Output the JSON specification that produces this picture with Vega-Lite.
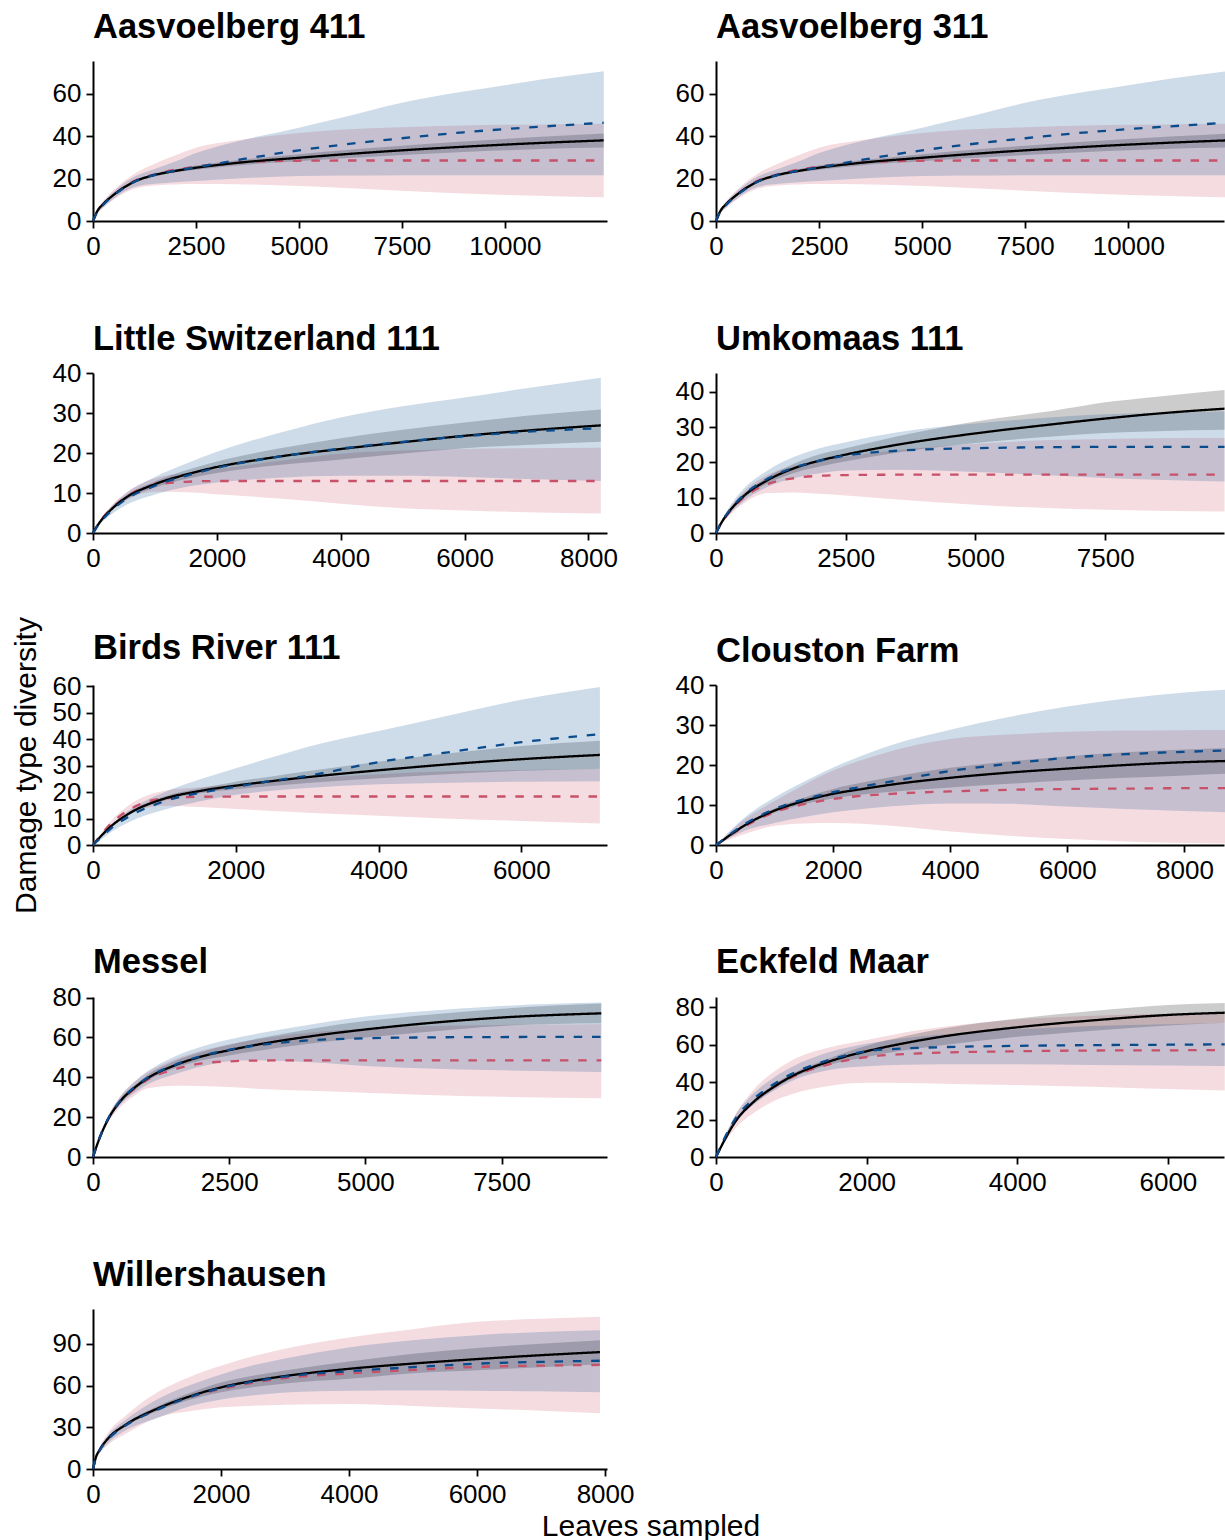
{
"$schema": "https://vega.github.io/schema/vega-lite/v6.json",
"padding": {"left": 10, "top": 9, "right": 0, "bottom": 0},
"background": "white",
"config": {
 "font": "Liberation Sans",
 "numberFormat": "d",
 "view": {"stroke": null},
 "axis": {"grid": false, "format": "d", "domainColor": "#000", "domainWidth": 2, "tickColor": "#000", "tickWidth": 1.8, "tickSize": 7, "labelFontSize": 26, "labelColor": "#000", "labelPadding": 5, "labelOverlap": false, "labelFlush": false, "titleFontSize": 30, "titleFontWeight": "normal", "titleColor": "#000"},
 "title": {"anchor": "start", "frame": "group", "fontSize": 34.5, "fontWeight": "bold", "color": "#000"},
 "line": {"strokeWidth": 2.3, "interpolate": "monotone", "clip": true},
 "area": {"opacity": 0.2, "interpolate": "monotone", "clip": true}
},
"datasets": {
 "p1": [
  {"x":0,"s":"r","y":0,"lo":0,"hi":0},{"x":100,"s":"r","y":4.3,"lo":3.3,"hi":5.3},{"x":250,"s":"r","y":7.9,"lo":6.3,"hi":9.5},{"x":500,"s":"r","y":12.3,"lo":10,"hi":14.6},{"x":1000,"s":"r","y":18.8,"lo":15.2,"hi":22.2},{"x":1500,"s":"r","y":22,"lo":16.7,"hi":27},{"x":2000,"s":"r","y":24.2,"lo":17.2,"hi":31},{"x":2500,"s":"r","y":25.6,"lo":17.4,"hi":34.5},{"x":3500,"s":"r","y":27.6,"lo":17.3,"hi":38},{"x":5000,"s":"r","y":28.4,"lo":16.5,"hi":41.5},{"x":6000,"s":"r","y":28.5,"lo":15.7,"hi":43},{"x":7500,"s":"r","y":28.5,"lo":14.3,"hi":44.2},{"x":9000,"s":"r","y":28.5,"lo":13,"hi":45},{"x":10000,"s":"r","y":28.5,"lo":12.3,"hi":45.3},{"x":11000,"s":"r","y":28.5,"lo":11.8,"hi":45.5},{"x":12400,"s":"r","y":28.5,"lo":11.2,"hi":45.8},
  {"x":0,"s":"k","y":0,"lo":0,"hi":0},{"x":100,"s":"k","y":4.5,"lo":4.2,"hi":4.8},{"x":250,"s":"k","y":8,"lo":7.6,"hi":8.4},{"x":500,"s":"k","y":12.3,"lo":11.8,"hi":12.8},{"x":1000,"s":"k","y":18.5,"lo":17.9,"hi":19.1},{"x":1500,"s":"k","y":21.7,"lo":21,"hi":22.4},{"x":2000,"s":"k","y":23.6,"lo":22.8,"hi":24.4},{"x":2500,"s":"k","y":25.1,"lo":24.1,"hi":26.1},{"x":3500,"s":"k","y":27.4,"lo":26.2,"hi":28.6},{"x":5000,"s":"k","y":29.8,"lo":28.1,"hi":31.5},{"x":6000,"s":"k","y":31.3,"lo":29.4,"hi":33.2},{"x":7500,"s":"k","y":33.3,"lo":31.1,"hi":35.5},{"x":9000,"s":"k","y":35,"lo":32.5,"hi":37.5},{"x":10000,"s":"k","y":36,"lo":33.3,"hi":38.7},{"x":11000,"s":"k","y":36.9,"lo":34,"hi":39.8},{"x":12400,"s":"k","y":38,"lo":34.6,"hi":41.2},
  {"x":0,"s":"b","y":0,"lo":0,"hi":0},{"x":100,"s":"b","y":4.2,"lo":3.5,"hi":5},{"x":250,"s":"b","y":7.7,"lo":6.5,"hi":9},{"x":500,"s":"b","y":12,"lo":10.5,"hi":13.8},{"x":1000,"s":"b","y":18.4,"lo":16,"hi":20.8},{"x":1500,"s":"b","y":21.7,"lo":17.5,"hi":24.5},{"x":2000,"s":"b","y":23.7,"lo":18.3,"hi":28},{"x":2500,"s":"b","y":25.3,"lo":18.8,"hi":32},{"x":3500,"s":"b","y":28.7,"lo":20,"hi":37.5},{"x":5000,"s":"b","y":33.3,"lo":21.2,"hi":44},{"x":6000,"s":"b","y":35.8,"lo":21.4,"hi":48.5},{"x":7500,"s":"b","y":39,"lo":21.6,"hi":55.7},{"x":9000,"s":"b","y":41.8,"lo":21.6,"hi":61},{"x":10000,"s":"b","y":43.3,"lo":21.6,"hi":64},{"x":11000,"s":"b","y":44.6,"lo":21.6,"hi":67},{"x":12400,"s":"b","y":46.3,"lo":21.6,"hi":70.6}
 ],
 "p3": [
  {"x":0,"s":"r","y":0,"lo":0,"hi":0},{"x":100,"s":"r","y":2.6,"lo":2.2,"hi":3},{"x":250,"s":"r","y":5.4,"lo":4.8,"hi":6.1},{"x":500,"s":"r","y":8.7,"lo":7.8,"hi":9.7},{"x":1000,"s":"r","y":12,"lo":10.3,"hi":13.7},{"x":1500,"s":"r","y":12.8,"lo":10.2,"hi":15},{"x":2000,"s":"r","y":13,"lo":9.7,"hi":16},{"x":2500,"s":"r","y":13,"lo":9.2,"hi":17},{"x":3000,"s":"r","y":13,"lo":8.6,"hi":18},{"x":4000,"s":"r","y":13,"lo":7.3,"hi":19.8},{"x":5000,"s":"r","y":13,"lo":6.2,"hi":20.6},{"x":6000,"s":"r","y":13,"lo":5.6,"hi":21},{"x":7000,"s":"r","y":13,"lo":5.2,"hi":21.2},{"x":8200,"s":"r","y":13,"lo":4.9,"hi":21.3},
  {"x":0,"s":"k","y":0,"lo":0,"hi":0},{"x":100,"s":"k","y":2.5,"lo":2.3,"hi":2.7},{"x":250,"s":"k","y":5.2,"lo":4.9,"hi":5.5},{"x":500,"s":"k","y":8.5,"lo":8,"hi":9},{"x":1000,"s":"k","y":12.2,"lo":11.4,"hi":12.9},{"x":1500,"s":"k","y":14.6,"lo":13.5,"hi":15.7},{"x":2000,"s":"k","y":16.5,"lo":15,"hi":17.9},{"x":2500,"s":"k","y":17.9,"lo":16.1,"hi":19.6},{"x":3000,"s":"k","y":19.1,"lo":17,"hi":21.1},{"x":4000,"s":"k","y":21,"lo":18.4,"hi":23.7},{"x":5000,"s":"k","y":22.7,"lo":19.9,"hi":25.8},{"x":6000,"s":"k","y":24.3,"lo":21.2,"hi":27.6},{"x":7000,"s":"k","y":25.6,"lo":22,"hi":29.3},{"x":8200,"s":"k","y":26.9,"lo":22.8,"hi":30.9},
  {"x":0,"s":"b","y":0,"lo":0,"hi":0},{"x":100,"s":"b","y":2.3,"lo":1.9,"hi":2.8},{"x":250,"s":"b","y":4.9,"lo":4.1,"hi":5.8},{"x":500,"s":"b","y":8.1,"lo":6.7,"hi":9.5},{"x":1000,"s":"b","y":11.8,"lo":9.6,"hi":14},{"x":1500,"s":"b","y":14.3,"lo":11.5,"hi":17.3},{"x":2000,"s":"b","y":16.3,"lo":12.6,"hi":20.3},{"x":2500,"s":"b","y":17.8,"lo":13.3,"hi":22.8},{"x":3000,"s":"b","y":19.1,"lo":13.8,"hi":25},{"x":4000,"s":"b","y":21.1,"lo":14.3,"hi":28.9},{"x":5000,"s":"b","y":22.8,"lo":14.3,"hi":31.7},{"x":6000,"s":"b","y":24.2,"lo":14,"hi":33.9},{"x":7000,"s":"b","y":25.3,"lo":13.5,"hi":36.2},{"x":8200,"s":"b","y":26.2,"lo":13,"hi":38.8}
 ],
 "p4": [
  {"x":0,"s":"r","y":0,"lo":0,"hi":0},{"x":100,"s":"r","y":2.7,"lo":2.2,"hi":3.2},{"x":250,"s":"r","y":5.8,"lo":4.8,"hi":6.8},{"x":500,"s":"r","y":9.6,"lo":8,"hi":11.2},{"x":1000,"s":"r","y":13.9,"lo":11.3,"hi":16.5},{"x":1500,"s":"r","y":15.5,"lo":11.5,"hi":19},{"x":2000,"s":"r","y":16.2,"lo":11.1,"hi":20.5},{"x":2500,"s":"r","y":16.4,"lo":10.6,"hi":21.6},{"x":3500,"s":"r","y":16.5,"lo":9.5,"hi":23.5},{"x":5000,"s":"r","y":16.5,"lo":8,"hi":25.3},{"x":6500,"s":"r","y":16.5,"lo":7,"hi":26.3},{"x":7500,"s":"r","y":16.5,"lo":6.6,"hi":26.6},{"x":8500,"s":"r","y":16.5,"lo":6.3,"hi":26.8},{"x":9800,"s":"r","y":16.5,"lo":6.1,"hi":26.9},
  {"x":0,"s":"k","y":0,"lo":0,"hi":0},{"x":100,"s":"k","y":2.8,"lo":2.6,"hi":3},{"x":250,"s":"k","y":6,"lo":5.6,"hi":6.4},{"x":500,"s":"k","y":10,"lo":9.4,"hi":10.6},{"x":1000,"s":"k","y":15,"lo":14.1,"hi":15.9},{"x":1500,"s":"k","y":18.3,"lo":17,"hi":19.6},{"x":2000,"s":"k","y":20.5,"lo":18.8,"hi":22.3},{"x":2500,"s":"k","y":22.2,"lo":20.3,"hi":24},{"x":3500,"s":"k","y":25,"lo":22.8,"hi":27.4},{"x":5000,"s":"k","y":28.2,"lo":25.5,"hi":31.6},{"x":6500,"s":"k","y":30.8,"lo":27.3,"hi":34.6},{"x":7500,"s":"k","y":32.4,"lo":28.3,"hi":37},{"x":8500,"s":"k","y":33.8,"lo":28.8,"hi":38.6},{"x":9800,"s":"k","y":35.2,"lo":29.2,"hi":40.5},
  {"x":0,"s":"b","y":0,"lo":0,"hi":0},{"x":100,"s":"b","y":2.9,"lo":2.4,"hi":3.4},{"x":250,"s":"b","y":6.2,"lo":5.2,"hi":7.2},{"x":500,"s":"b","y":10.3,"lo":8.6,"hi":12},{"x":1000,"s":"b","y":15.4,"lo":13.1,"hi":17.8},{"x":1500,"s":"b","y":18.5,"lo":15.5,"hi":21.5},{"x":2000,"s":"b","y":20.5,"lo":16.9,"hi":24},{"x":2500,"s":"b","y":21.9,"lo":17.7,"hi":25.7},{"x":3500,"s":"b","y":23.3,"lo":17.9,"hi":28.5},{"x":5000,"s":"b","y":24,"lo":17.3,"hi":31},{"x":6500,"s":"b","y":24.3,"lo":16.3,"hi":32.8},{"x":7500,"s":"b","y":24.4,"lo":15.6,"hi":33.6},{"x":8500,"s":"b","y":24.4,"lo":15.1,"hi":34},{"x":9800,"s":"b","y":24.4,"lo":14.6,"hi":34.5}
 ],
 "p5": [
  {"x":0,"s":"r","y":0,"lo":0,"hi":0},{"x":100,"s":"r","y":3.5,"lo":3,"hi":4},{"x":250,"s":"r","y":8,"lo":7,"hi":9},{"x":500,"s":"r","y":13.2,"lo":11.4,"hi":15},{"x":1000,"s":"r","y":17.6,"lo":14.8,"hi":20.5},{"x":1500,"s":"r","y":18.2,"lo":14.3,"hi":21.8},{"x":2000,"s":"r","y":18.3,"lo":13.6,"hi":22.9},{"x":2500,"s":"r","y":18.3,"lo":12.8,"hi":24},{"x":3000,"s":"r","y":18.3,"lo":12.2,"hi":25},{"x":4000,"s":"r","y":18.3,"lo":11,"hi":26.7},{"x":5000,"s":"r","y":18.3,"lo":9.9,"hi":27.8},{"x":6000,"s":"r","y":18.3,"lo":9.1,"hi":28.3},{"x":7100,"s":"r","y":18.3,"lo":8.1,"hi":28.8},
  {"x":0,"s":"k","y":0,"lo":0,"hi":0},{"x":100,"s":"k","y":3,"lo":2.8,"hi":3.2},{"x":250,"s":"k","y":7,"lo":6.6,"hi":7.4},{"x":500,"s":"k","y":11.8,"lo":11.2,"hi":12.4},{"x":1000,"s":"k","y":17.5,"lo":16.8,"hi":18.3},{"x":1500,"s":"k","y":20.4,"lo":19.5,"hi":21.4},{"x":2000,"s":"k","y":22.4,"lo":21,"hi":23.9},{"x":2500,"s":"k","y":24.1,"lo":22.3,"hi":25.9},{"x":3000,"s":"k","y":25.6,"lo":23.4,"hi":27.8},{"x":4000,"s":"k","y":28.2,"lo":25.2,"hi":31.4},{"x":5000,"s":"k","y":30.5,"lo":26.8,"hi":34.6},{"x":6000,"s":"k","y":32.4,"lo":28,"hi":37.4},{"x":7100,"s":"k","y":34,"lo":28.8,"hi":39.4},
  {"x":0,"s":"b","y":0,"lo":0,"hi":0},{"x":100,"s":"b","y":2.5,"lo":1.8,"hi":3.2},{"x":250,"s":"b","y":6.2,"lo":4.8,"hi":7.5},{"x":500,"s":"b","y":10.7,"lo":8.6,"hi":13},{"x":1000,"s":"b","y":16.5,"lo":13.3,"hi":19.9},{"x":1500,"s":"b","y":19.7,"lo":16.5,"hi":24.8},{"x":2000,"s":"b","y":22,"lo":19,"hi":29},{"x":2500,"s":"b","y":24.2,"lo":20.5,"hi":33},{"x":3000,"s":"b","y":26.1,"lo":21.5,"hi":37},{"x":4000,"s":"b","y":31.3,"lo":22.9,"hi":43},{"x":5000,"s":"b","y":35.1,"lo":23.5,"hi":49},{"x":6000,"s":"b","y":38.8,"lo":23.9,"hi":54.8},{"x":7100,"s":"b","y":41.8,"lo":24.1,"hi":59.6}
 ],
 "p6": [
  {"x":0,"s":"r","y":0,"lo":0,"hi":0},{"x":100,"s":"r","y":1,"lo":0.6,"hi":1.4},{"x":250,"s":"r","y":2.5,"lo":1.5,"hi":3.5},{"x":500,"s":"r","y":4.7,"lo":2.8,"hi":6.5},{"x":1000,"s":"r","y":8.2,"lo":4.8,"hi":11},{"x":1500,"s":"r","y":10.2,"lo":5.4,"hi":15},{"x":2000,"s":"r","y":11.5,"lo":5.5,"hi":18.6},{"x":2500,"s":"r","y":12.3,"lo":5.3,"hi":21.3},{"x":3000,"s":"r","y":12.8,"lo":4.8,"hi":23.5},{"x":4000,"s":"r","y":13.4,"lo":3.4,"hi":26.5},{"x":5000,"s":"r","y":13.8,"lo":2.3,"hi":27.6},{"x":6000,"s":"r","y":14,"lo":1.5,"hi":28.3},{"x":7000,"s":"r","y":14.1,"lo":0.9,"hi":28.6},{"x":8000,"s":"r","y":14.2,"lo":0.5,"hi":28.7},{"x":8700,"s":"r","y":14.2,"lo":0.4,"hi":28.75},
  {"x":0,"s":"k","y":0,"lo":0,"hi":0},{"x":100,"s":"k","y":1,"lo":0.9,"hi":1.1},{"x":250,"s":"k","y":2.6,"lo":2.4,"hi":2.8},{"x":500,"s":"k","y":5,"lo":4.7,"hi":5.3},{"x":1000,"s":"k","y":8.6,"lo":8.1,"hi":9.1},{"x":1500,"s":"k","y":11,"lo":10.2,"hi":11.8},{"x":2000,"s":"k","y":12.8,"lo":11.6,"hi":14},{"x":2500,"s":"k","y":14,"lo":12.6,"hi":15.6},{"x":3000,"s":"k","y":15.1,"lo":13.3,"hi":17},{"x":4000,"s":"k","y":16.8,"lo":14.4,"hi":19.3},{"x":5000,"s":"k","y":18.1,"lo":15.3,"hi":20.9},{"x":6000,"s":"k","y":19.1,"lo":16.1,"hi":22.2},{"x":7000,"s":"k","y":20,"lo":16.8,"hi":23.2},{"x":8000,"s":"k","y":20.7,"lo":17.4,"hi":23.9},{"x":8700,"s":"k","y":21,"lo":17.8,"hi":24.2},
  {"x":0,"s":"b","y":0,"lo":0,"hi":0},{"x":100,"s":"b","y":1.1,"lo":0.7,"hi":1.5},{"x":250,"s":"b","y":2.8,"lo":1.9,"hi":3.7},{"x":500,"s":"b","y":5.3,"lo":3.6,"hi":7},{"x":1000,"s":"b","y":9,"lo":5.5,"hi":11.9},{"x":1500,"s":"b","y":11.4,"lo":7,"hi":15.8},{"x":2000,"s":"b","y":13.2,"lo":8.2,"hi":19.4},{"x":2500,"s":"b","y":14.6,"lo":9,"hi":22.4},{"x":3000,"s":"b","y":15.9,"lo":9.7,"hi":25},{"x":4000,"s":"b","y":18.5,"lo":10.4,"hi":28.8},{"x":5000,"s":"b","y":20.3,"lo":10.3,"hi":32},{"x":6000,"s":"b","y":21.8,"lo":9.6,"hi":34.6},{"x":7000,"s":"b","y":22.7,"lo":9,"hi":36.6},{"x":8000,"s":"b","y":23.3,"lo":8.5,"hi":38.1},{"x":8700,"s":"b","y":23.6,"lo":8.2,"hi":38.8}
 ],
 "p7": [
  {"x":0,"s":"r","y":0,"lo":0,"hi":0},{"x":100,"s":"r","y":8,"lo":7.2,"hi":8.8},{"x":250,"s":"r","y":17.5,"lo":16,"hi":19},{"x":500,"s":"r","y":27.8,"lo":25,"hi":30.5},{"x":750,"s":"r","y":34,"lo":30.5,"hi":37.5},{"x":1000,"s":"r","y":38.8,"lo":34.5,"hi":42.5},{"x":1500,"s":"r","y":44,"lo":35.8,"hi":49},{"x":2000,"s":"r","y":47,"lo":35.6,"hi":53.5},{"x":2500,"s":"r","y":48,"lo":35.1,"hi":56.5},{"x":3000,"s":"r","y":48.4,"lo":34.3,"hi":59},{"x":4000,"s":"r","y":48.5,"lo":33.2,"hi":62.5},{"x":5000,"s":"r","y":48.5,"lo":32.2,"hi":64.5},{"x":6000,"s":"r","y":48.5,"lo":31.3,"hi":65.5},{"x":7500,"s":"r","y":48.5,"lo":30.2,"hi":66.3},{"x":9330,"s":"r","y":48.5,"lo":29.5,"hi":66.6},
  {"x":0,"s":"k","y":0,"lo":0,"hi":0},{"x":100,"s":"k","y":8,"lo":7.6,"hi":8.4},{"x":250,"s":"k","y":17.5,"lo":16.8,"hi":18.2},{"x":500,"s":"k","y":28,"lo":26.8,"hi":29.2},{"x":750,"s":"k","y":34.5,"lo":33.3,"hi":35.7},{"x":1000,"s":"k","y":39.5,"lo":38.3,"hi":41.2},{"x":1500,"s":"k","y":46,"lo":44.5,"hi":48.2},{"x":2000,"s":"k","y":50.5,"lo":48.5,"hi":52.8},{"x":2500,"s":"k","y":53.6,"lo":51,"hi":56.3},{"x":3000,"s":"k","y":56.3,"lo":53.2,"hi":59.3},{"x":4000,"s":"k","y":60.6,"lo":57,"hi":64.3},{"x":5000,"s":"k","y":64,"lo":60,"hi":68.2},{"x":6000,"s":"k","y":66.8,"lo":62.5,"hi":71},{"x":7500,"s":"k","y":70,"lo":65.8,"hi":74.4},{"x":9330,"s":"k","y":72.1,"lo":67.1,"hi":77},
  {"x":0,"s":"b","y":0,"lo":0,"hi":0},{"x":100,"s":"b","y":8.2,"lo":7.6,"hi":8.8},{"x":250,"s":"b","y":17.8,"lo":16.6,"hi":19},{"x":500,"s":"b","y":28.3,"lo":26.3,"hi":30.3},{"x":750,"s":"b","y":34.8,"lo":32,"hi":37.5},{"x":1000,"s":"b","y":39.8,"lo":36.4,"hi":43},{"x":1500,"s":"b","y":46.2,"lo":41.5,"hi":50.5},{"x":2000,"s":"b","y":50.8,"lo":45.5,"hi":55.5},{"x":2500,"s":"b","y":53.8,"lo":48,"hi":59},{"x":3000,"s":"b","y":56,"lo":48.5,"hi":61.8},{"x":4000,"s":"b","y":58.6,"lo":47.5,"hi":66.5},{"x":5000,"s":"b","y":59.6,"lo":45.7,"hi":70.5},{"x":6000,"s":"b","y":60,"lo":44.6,"hi":73},{"x":7500,"s":"b","y":60.2,"lo":43.5,"hi":75.8},{"x":9330,"s":"b","y":60.3,"lo":42.7,"hi":77.5}
 ],
 "p8": [
  {"x":0,"s":"r","y":0,"lo":0,"hi":0},{"x":100,"s":"r","y":8.2,"lo":6.8,"hi":9.5},{"x":250,"s":"r","y":18.5,"lo":15,"hi":22},{"x":500,"s":"r","y":29.5,"lo":23.5,"hi":36},{"x":750,"s":"r","y":37,"lo":29.5,"hi":45},{"x":1000,"s":"r","y":42.5,"lo":33.5,"hi":51.5},{"x":1500,"s":"r","y":49.5,"lo":38,"hi":58.5},{"x":2000,"s":"r","y":53.4,"lo":39.7,"hi":62.5},{"x":2500,"s":"r","y":55,"lo":39.6,"hi":66.5},{"x":3000,"s":"r","y":55.8,"lo":39.2,"hi":69.5},{"x":4000,"s":"r","y":56.5,"lo":38.5,"hi":73.5},{"x":5000,"s":"r","y":56.9,"lo":37.5,"hi":75.5},{"x":6000,"s":"r","y":57,"lo":36.3,"hi":76.5},{"x":6755,"s":"r","y":57.2,"lo":35.6,"hi":77},
  {"x":0,"s":"k","y":0,"lo":0,"hi":0},{"x":100,"s":"k","y":8,"lo":7.6,"hi":8.4},{"x":250,"s":"k","y":18.5,"lo":17.8,"hi":19.2},{"x":500,"s":"k","y":29.5,"lo":28.5,"hi":30.5},{"x":750,"s":"k","y":37,"lo":35.8,"hi":38.2},{"x":1000,"s":"k","y":43,"lo":41.8,"hi":44.3},{"x":1500,"s":"k","y":51,"lo":49.3,"hi":52.7},{"x":2000,"s":"k","y":56.5,"lo":53.5,"hi":59.5},{"x":2500,"s":"k","y":60.8,"lo":57,"hi":64.5},{"x":3000,"s":"k","y":64.3,"lo":59.7,"hi":68.5},{"x":4000,"s":"k","y":69.3,"lo":64.2,"hi":74},{"x":5000,"s":"k","y":73,"lo":67.5,"hi":78},{"x":6000,"s":"k","y":75.9,"lo":70.3,"hi":81.2},{"x":6755,"s":"k","y":77.1,"lo":71.8,"hi":82.3},
  {"x":0,"s":"b","y":0,"lo":0,"hi":0},{"x":100,"s":"b","y":9,"lo":8.2,"hi":9.8},{"x":250,"s":"b","y":20,"lo":18.2,"hi":21.8},{"x":500,"s":"b","y":31,"lo":28,"hi":34},{"x":750,"s":"b","y":38.5,"lo":35,"hi":42},{"x":1000,"s":"b","y":44.3,"lo":40.5,"hi":48},{"x":1500,"s":"b","y":51.8,"lo":46.5,"hi":56},{"x":2000,"s":"b","y":56.5,"lo":48.5,"hi":60.5},{"x":2500,"s":"b","y":58,"lo":49.3,"hi":63.5},{"x":3000,"s":"b","y":58.7,"lo":49.6,"hi":65.5},{"x":4000,"s":"b","y":59.4,"lo":49.5,"hi":68.3},{"x":5000,"s":"b","y":59.8,"lo":49.2,"hi":70},{"x":6000,"s":"b","y":60,"lo":48.9,"hi":71},{"x":6755,"s":"b","y":60.2,"lo":48.6,"hi":71.8}
 ],
 "p9": [
  {"x":0,"s":"r","y":0,"lo":0,"hi":0},{"x":50,"s":"r","y":8.8,"lo":7.3,"hi":10},{"x":100,"s":"r","y":13.3,"lo":11,"hi":15.5},{"x":250,"s":"r","y":22.5,"lo":18,"hi":27},{"x":500,"s":"r","y":31.3,"lo":25,"hi":38},{"x":1000,"s":"r","y":42.8,"lo":37,"hi":55},{"x":1500,"s":"r","y":51.5,"lo":41.5,"hi":66},{"x":2000,"s":"r","y":57.5,"lo":44.3,"hi":74.2},{"x":2500,"s":"r","y":62,"lo":45.5,"hi":81},{"x":3000,"s":"r","y":65.3,"lo":46.2,"hi":86.5},{"x":4000,"s":"r","y":68.7,"lo":46.7,"hi":94.6},{"x":5000,"s":"r","y":71.2,"lo":45.3,"hi":100.5},{"x":6000,"s":"r","y":73.4,"lo":43.5,"hi":105.8},{"x":7000,"s":"r","y":74.3,"lo":41.8,"hi":108},{"x":7920,"s":"r","y":74.8,"lo":40,"hi":109.4},
  {"x":0,"s":"k","y":0,"lo":0,"hi":0},{"x":50,"s":"k","y":9,"lo":8.6,"hi":9.4},{"x":100,"s":"k","y":13.5,"lo":12.9,"hi":14.1},{"x":250,"s":"k","y":22.7,"lo":21.8,"hi":23.6},{"x":500,"s":"k","y":31.5,"lo":30.3,"hi":32.7},{"x":1000,"s":"k","y":43.3,"lo":41.5,"hi":45},{"x":1500,"s":"k","y":52,"lo":49.6,"hi":54.4},{"x":2000,"s":"k","y":58.7,"lo":55.1,"hi":62.2},{"x":2500,"s":"k","y":63.3,"lo":58.8,"hi":67},{"x":3000,"s":"k","y":66.8,"lo":61.5,"hi":70.8},{"x":4000,"s":"k","y":72,"lo":64.8,"hi":77.3},{"x":5000,"s":"k","y":75.8,"lo":68.8,"hi":82.8},{"x":6000,"s":"k","y":79,"lo":71,"hi":87},{"x":7000,"s":"k","y":81.8,"lo":73.2,"hi":90},{"x":7920,"s":"k","y":84,"lo":75.3,"hi":92.5},
  {"x":0,"s":"b","y":0,"lo":0,"hi":0},{"x":50,"s":"b","y":8.5,"lo":7.5,"hi":9.5},{"x":100,"s":"b","y":13,"lo":11.5,"hi":14.5},{"x":250,"s":"b","y":22,"lo":19.3,"hi":25},{"x":500,"s":"b","y":31,"lo":27.5,"hi":35},{"x":1000,"s":"b","y":42.5,"lo":36.5,"hi":50},{"x":1500,"s":"b","y":51.5,"lo":45,"hi":60},{"x":2000,"s":"b","y":58.2,"lo":50,"hi":68},{"x":2500,"s":"b","y":62.8,"lo":53,"hi":74.5},{"x":3000,"s":"b","y":66.4,"lo":55,"hi":79.5},{"x":4000,"s":"b","y":70.3,"lo":56.3,"hi":87.4},{"x":5000,"s":"b","y":73.2,"lo":56.5,"hi":92.5},{"x":6000,"s":"b","y":75.7,"lo":56.3,"hi":96.2},{"x":7000,"s":"b","y":77,"lo":55.8,"hi":98.5},{"x":7920,"s":"b","y":77.8,"lo":55.1,"hi":99.8}
 ]
},
"columns": 2,
"spacing": {"row": 152, "column": 109},
"bounds": "flush",
"concat": [
 {"title": {"text": "Aasvoelberg 411", "offset": 16}, "width": 514, "height": 160, "data": {"name": "p1"},
  "encoding": {"x": {"field": "x", "type": "quantitative", "scale": {"domain": [0, 12480], "nice": false}, "axis": {"values": [0, 2500, 5000, 7500, 10000], "title": null, "format": "d"}}},
  "layer": [
   {"mark": "area", "encoding": {"y": {"field": "lo", "type": "quantitative", "scale": {"domain": [0, 75.4], "nice": false}, "axis": {"values": [0, 20, 40, 60], "title": null, "format": "d"}}, "y2": {"field": "hi"}, "color": {"field": "s", "type": "nominal", "scale": {"domain": ["r", "k", "b"], "range": ["#c85068", "#000000", "#0a4b8c"]}, "legend": null}}},
   {"mark": "line", "encoding": {"y": {"field": "y", "type": "quantitative", "axis": {"values": [0, 20, 40, 60], "title": null, "format": "d"}}, "color": {"field": "s", "type": "nominal", "legend": null}, "strokeDash": {"field": "s", "type": "nominal", "scale": {"domain": ["r", "k", "b"], "range": [[8.5, 9.8], [1, 0], [8.5, 9.8]]}, "legend": null}}}
  ]},
 {"title": {"text": "Aasvoelberg 311", "offset": 16}, "width": 508, "height": 160, "data": {"name": "p1"},
  "encoding": {"x": {"field": "x", "type": "quantitative", "scale": {"domain": [0, 12320], "nice": false}, "axis": {"values": [0, 2500, 5000, 7500, 10000], "title": null, "format": "d"}}},
  "layer": [
   {"mark": "area", "encoding": {"y": {"field": "lo", "type": "quantitative", "scale": {"domain": [0, 75.4], "nice": false}, "axis": {"values": [0, 20, 40, 60], "title": null, "format": "d"}}, "y2": {"field": "hi"}, "color": {"field": "s", "type": "nominal", "scale": {"domain": ["r", "k", "b"], "range": ["#c85068", "#000000", "#0a4b8c"]}, "legend": null}}},
   {"mark": "line", "encoding": {"y": {"field": "y", "type": "quantitative", "axis": {"values": [0, 20, 40, 60], "title": null, "format": "d"}}, "color": {"field": "s", "type": "nominal", "legend": null}, "strokeDash": {"field": "s", "type": "nominal", "scale": {"domain": ["r", "k", "b"], "range": [[8.5, 9.8], [1, 0], [8.5, 9.8]]}, "legend": null}}}
  ]},
 {"title": {"text": "Little Switzerland 111", "offset": 3}, "width": 514, "height": 160, "data": {"name": "p3"},
  "encoding": {"x": {"field": "x", "type": "quantitative", "scale": {"domain": [0, 8300], "nice": false}, "axis": {"values": [0, 2000, 4000, 6000, 8000], "title": null, "format": "d"}}},
  "layer": [
   {"mark": "area", "encoding": {"y": {"field": "lo", "type": "quantitative", "scale": {"domain": [0, 40], "nice": false}, "axis": {"values": [0, 10, 20, 30, 40], "title": null, "format": "d"}}, "y2": {"field": "hi"}, "color": {"field": "s", "type": "nominal", "scale": {"domain": ["r", "k", "b"], "range": ["#c85068", "#000000", "#0a4b8c"]}, "legend": null}}},
   {"mark": "line", "encoding": {"y": {"field": "y", "type": "quantitative", "axis": {"values": [0, 10, 20, 30, 40], "title": null, "format": "d"}}, "color": {"field": "s", "type": "nominal", "legend": null}, "strokeDash": {"field": "s", "type": "nominal", "scale": {"domain": ["r", "k", "b"], "range": [[8.5, 9.8], [1, 0], [8.5, 9.8]]}, "legend": null}}}
  ]},
 {"title": {"text": "Umkomaas 111", "offset": 16}, "width": 508, "height": 160, "data": {"name": "p4"},
  "encoding": {"x": {"field": "x", "type": "quantitative", "scale": {"domain": [0, 9790], "nice": false}, "axis": {"values": [0, 2500, 5000, 7500], "title": null, "format": "d"}}},
  "layer": [
   {"mark": "area", "encoding": {"y": {"field": "lo", "type": "quantitative", "scale": {"domain": [0, 45.3], "nice": false}, "axis": {"values": [0, 10, 20, 30, 40], "title": null, "format": "d"}}, "y2": {"field": "hi"}, "color": {"field": "s", "type": "nominal", "scale": {"domain": ["r", "k", "b"], "range": ["#c85068", "#000000", "#0a4b8c"]}, "legend": null}}},
   {"mark": "line", "encoding": {"y": {"field": "y", "type": "quantitative", "axis": {"values": [0, 10, 20, 30, 40], "title": null, "format": "d"}}, "color": {"field": "s", "type": "nominal", "legend": null}, "strokeDash": {"field": "s", "type": "nominal", "scale": {"domain": ["r", "k", "b"], "range": [[8.5, 9.8], [1, 0], [8.5, 9.8]]}, "legend": null}}}
  ]},
 {"title": {"text": "Birds River 111", "offset": -50}, "width": 514, "height": 160, "data": {"name": "p5"},
  "encoding": {"x": {"field": "x", "type": "quantitative", "scale": {"domain": [0, 7200], "nice": false}, "axis": {"values": [0, 2000, 4000, 6000], "title": null, "format": "d"}}},
  "layer": [
   {"mark": "area", "encoding": {"y": {"field": "lo", "type": "quantitative", "scale": {"domain": [0, 60.4], "nice": false}, "axis": {"values": [0, 10, 20, 30, 40, 50, 60], "format": "d", "title": "Damage type diversity", "titleX": -58, "titleY": 80, "titleAngle": -90, "titleAlign": "center", "titleBaseline": "alphabetic"}}, "y2": {"field": "hi"}, "color": {"field": "s", "type": "nominal", "scale": {"domain": ["r", "k", "b"], "range": ["#c85068", "#000000", "#0a4b8c"]}, "legend": null}}},
   {"mark": "line", "encoding": {"y": {"field": "y", "type": "quantitative", "axis": {"values": [0, 10, 20, 30, 40, 50, 60], "format": "d", "title": "Damage type diversity", "titleX": -58, "titleY": 80, "titleAngle": -90, "titleAlign": "center", "titleBaseline": "alphabetic"}}, "color": {"field": "s", "type": "nominal", "legend": null}, "strokeDash": {"field": "s", "type": "nominal", "scale": {"domain": ["r", "k", "b"], "range": [[8.5, 9.8], [1, 0], [8.5, 9.8]]}, "legend": null}}}
  ]},
 {"title": {"text": "Clouston Farm", "offset": 3}, "width": 508, "height": 160, "data": {"name": "p6"},
  "encoding": {"x": {"field": "x", "type": "quantitative", "scale": {"domain": [0, 8675], "nice": false}, "axis": {"values": [0, 2000, 4000, 6000, 8000], "title": null, "format": "d"}}},
  "layer": [
   {"mark": "area", "encoding": {"y": {"field": "lo", "type": "quantitative", "scale": {"domain": [0, 40], "nice": false}, "axis": {"values": [0, 10, 20, 30, 40], "title": null, "format": "d"}}, "y2": {"field": "hi"}, "color": {"field": "s", "type": "nominal", "scale": {"domain": ["r", "k", "b"], "range": ["#c85068", "#000000", "#0a4b8c"]}, "legend": null}}},
   {"mark": "line", "encoding": {"y": {"field": "y", "type": "quantitative", "axis": {"values": [0, 10, 20, 30, 40], "title": null, "format": "d"}}, "color": {"field": "s", "type": "nominal", "legend": null}, "strokeDash": {"field": "s", "type": "nominal", "scale": {"domain": ["r", "k", "b"], "range": [[8.5, 9.8], [1, 0], [8.5, 9.8]]}, "legend": null}}}
  ]},
 {"title": {"text": "Messel", "offset": 4}, "width": 514, "height": 160, "data": {"name": "p7"},
  "encoding": {"x": {"field": "x", "type": "quantitative", "scale": {"domain": [0, 9435], "nice": false}, "axis": {"values": [0, 2500, 5000, 7500], "title": null, "format": "d"}}},
  "layer": [
   {"mark": "area", "encoding": {"y": {"field": "lo", "type": "quantitative", "scale": {"domain": [0, 80.3], "nice": false}, "axis": {"values": [0, 20, 40, 60, 80], "title": null, "format": "d"}}, "y2": {"field": "hi"}, "color": {"field": "s", "type": "nominal", "scale": {"domain": ["r", "k", "b"], "range": ["#c85068", "#000000", "#0a4b8c"]}, "legend": null}}},
   {"mark": "line", "encoding": {"y": {"field": "y", "type": "quantitative", "axis": {"values": [0, 20, 40, 60, 80], "title": null, "format": "d"}}, "color": {"field": "s", "type": "nominal", "legend": null}, "strokeDash": {"field": "s", "type": "nominal", "scale": {"domain": ["r", "k", "b"], "range": [[8.5, 9.8], [1, 0], [8.5, 9.8]]}, "legend": null}}}
  ]},
 {"title": {"text": "Eckfeld Maar", "offset": 13.5}, "width": 508, "height": 160, "data": {"name": "p8"},
  "encoding": {"x": {"field": "x", "type": "quantitative", "scale": {"domain": [0, 6745], "nice": false}, "axis": {"values": [0, 2000, 4000, 6000], "title": null, "format": "d"}}},
  "layer": [
   {"mark": "area", "encoding": {"y": {"field": "lo", "type": "quantitative", "scale": {"domain": [0, 85.5], "nice": false}, "axis": {"values": [0, 20, 40, 60, 80], "title": null, "format": "d"}}, "y2": {"field": "hi"}, "color": {"field": "s", "type": "nominal", "scale": {"domain": ["r", "k", "b"], "range": ["#c85068", "#000000", "#0a4b8c"]}, "legend": null}}},
   {"mark": "line", "encoding": {"y": {"field": "y", "type": "quantitative", "axis": {"values": [0, 20, 40, 60, 80], "title": null, "format": "d"}}, "color": {"field": "s", "type": "nominal", "legend": null}, "strokeDash": {"field": "s", "type": "nominal", "scale": {"domain": ["r", "k", "b"], "range": [[8.5, 9.8], [1, 0], [8.5, 9.8]]}, "legend": null}}}
  ]},
 {"title": {"text": "Willershausen", "offset": 16}, "width": 514, "height": 160, "data": {"name": "p9"},
  "encoding": {"x": {"field": "x", "type": "quantitative", "scale": {"domain": [0, 8030], "nice": false}, "axis": {"values": [0, 2000, 4000, 6000, 8000], "format": "d", "title": "Leaves sampled", "titleX": 557.5, "titleY": 66, "titleAlign": "center", "titleBaseline": "alphabetic", "titleAngle": 0}}},
  "layer": [
   {"mark": "area", "encoding": {"y": {"field": "lo", "type": "quantitative", "scale": {"domain": [0, 115], "nice": false}, "axis": {"values": [0, 30, 60, 90], "title": null, "format": "d"}}, "y2": {"field": "hi"}, "color": {"field": "s", "type": "nominal", "scale": {"domain": ["r", "k", "b"], "range": ["#c85068", "#000000", "#0a4b8c"]}, "legend": null}}},
   {"mark": "line", "encoding": {"y": {"field": "y", "type": "quantitative", "axis": {"values": [0, 30, 60, 90], "title": null, "format": "d"}}, "color": {"field": "s", "type": "nominal", "legend": null}, "strokeDash": {"field": "s", "type": "nominal", "scale": {"domain": ["r", "k", "b"], "range": [[8.5, 9.8], [1, 0], [8.5, 9.8]]}, "legend": null}}}
  ]}
]
}
